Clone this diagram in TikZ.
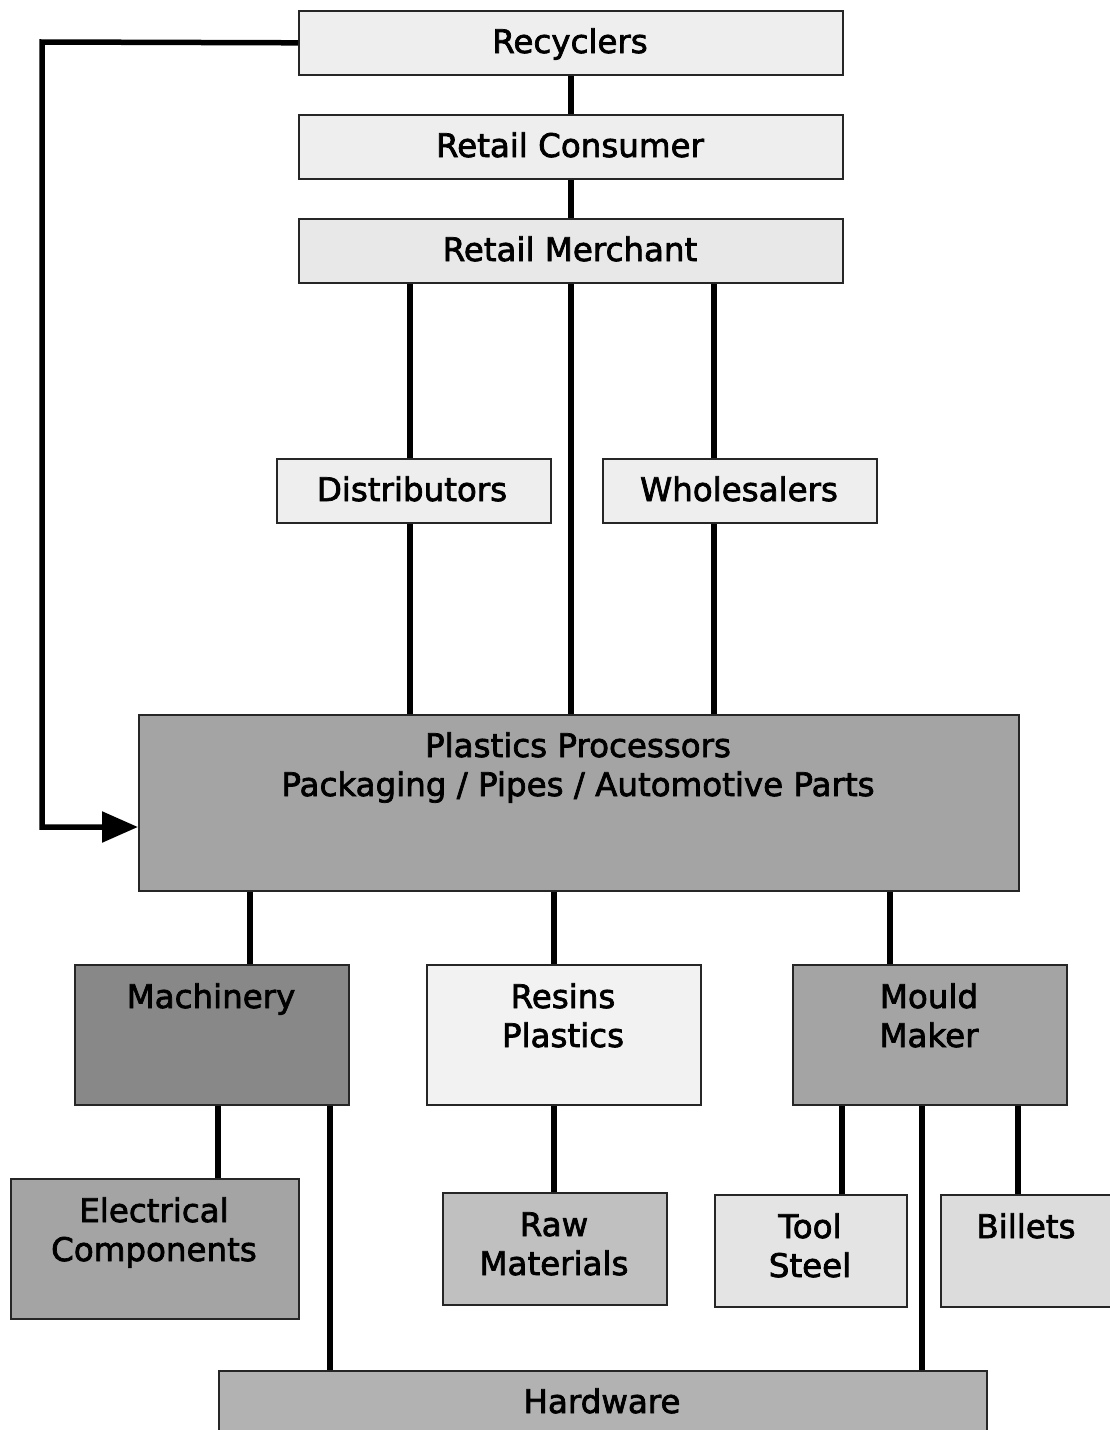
\documentclass[tikz,border=0pt]{standalone}
\usepackage{fontspec}
\setmainfont{DejaVu Sans}
\newfontfamily\lblfont{DejaVu Sans}[FakeBold=2.2]
\usetikzlibrary{arrows.meta}
\definecolor{cA}{HTML}{EEEEEE}
\definecolor{cB}{HTML}{E8E8E8}
\definecolor{cP}{HTML}{A4A4A4}
\definecolor{cM}{HTML}{888888}
\definecolor{cR}{HTML}{F2F2F2}
\definecolor{cRaw}{HTML}{C0C0C0}
\definecolor{cT}{HTML}{E4E4E4}
\definecolor{cBil}{HTML}{DCDCDC}
\definecolor{cH}{HTML}{B2B2B2}
\tikzset{
  box/.style={draw=black!85, line width=1.6pt, inner sep=0pt, anchor=north west},
  lbl/.style={anchor=base, align=center, inner sep=0pt, font=\lblfont\fontsize{32.5}{39}\selectfont},
  conn/.style={line width=5.5pt, black},
}
\newcommand{\bx}[6]{% name, x1, y1, x2, y2, fill
  \node[box, fill=#6, minimum width={(#4-#2)*1pt}, minimum height={(#5-#3)*1pt}] (#1) at (#2,-#3) {};}
\begin{document}
\begin{tikzpicture}[x=1pt,y=1pt]
\useasboundingbox (0,0) rectangle (1110,-1430);
\clip (0,0) rectangle (1110,-1430);
\fill[white] (0,0) rectangle (1110,-1430);

\bx{rec}{298}{10}{842}{74}{cA}
\bx{rcon}{298}{114}{842}{178}{cA}
\bx{rmer}{298}{218}{842}{282}{cB}
\bx{dist}{276}{458}{550}{522}{cA}
\bx{whol}{602}{458}{876}{522}{cA}
\bx{proc}{138}{714}{1018}{890}{cP}
\bx{mach}{74}{964}{348}{1104}{cM}
\bx{resin}{426}{964}{700}{1104}{cR}
\bx{mould}{792}{964}{1066}{1104}{cP}
\bx{elec}{10}{1178}{298}{1318}{cP}
\bx{raw}{442}{1192}{666}{1304}{cRaw}
\bx{tool}{714}{1194}{906}{1306}{cT}
\bx{bil}{940}{1194}{1130}{1306}{cBil}
\bx{hard}{218}{1370}{986}{1450}{cH}

% connectors
\draw[conn] (rec.south) -- (rcon.north);
\draw[conn] (rcon.south) -- (rmer.north);
\draw[conn] (rmer.south) -- (proc.north -| rmer.south);
\draw[conn] (rmer.south -| 410,0) -- (dist.north -| 410,0);
\draw[conn] (dist.south -| 410,0) -- (proc.north -| 410,0);
\draw[conn] (rmer.south -| 714,0) -- (whol.north -| 714,0);
\draw[conn] (whol.south -| 714,0) -- (proc.north -| 714,0);
\draw[conn] (proc.south -| 250,0) -- (mach.north -| 250,0);
\draw[conn] (proc.south -| 554,0) -- (resin.north -| 554,0);
\draw[conn] (proc.south -| 890,0) -- (mould.north -| 890,0);
\draw[conn] (mach.south -| 218,0) -- (elec.north -| 218,0);
\draw[conn] (mach.south -| 330,0) -- (hard.north -| 330,0);
\draw[conn] (resin.south -| 554,0) -- (raw.north -| 554,0);
\draw[conn] (mould.south -| 842,0) -- (tool.north -| 842,0);
\draw[conn] (mould.south -| 922,0) -- (hard.north -| 922,0);
\draw[conn] (mould.south -| 1018,0) -- (bil.north -| 1018,0);
\draw[conn, line join=miter, -{Triangle[length=36pt,width=30pt]}]
  (rec.west) -- (42,-42) -- (42,-827) -- (proc.west |- 0,-827);

% labels (anchor = baseline of the last line)
\node[lbl] (trec) at (570,-53) {Recyclers};
\node[lbl] (trcon) at (570,-157) {Retail Consumer};
\node[lbl] (trmer) at (570,-261) {Retail Merchant};
\node[lbl] (tdist) at (412,-501) {Distributors};
\node[lbl] (twhol) at (739,-501) {Wholesalers};
\node[lbl] (tproc) at (578,-796) {Plastics Processors\\Packaging / Pipes / Automotive Parts};
\node[lbl] (tmach) at (211,-1008) {Machinery};
\node[lbl] (tresin) at (563,-1047) {Resins\\Plastics};
\node[lbl] (tmould) at (929,-1047) {Mould\\Maker};
\node[lbl] (telec) at (154,-1261) {Electrical\\Components};
\node[lbl] (traw) at (554,-1275) {Raw\\Materials};
\node[lbl] (ttool) at (810,-1277) {Tool\\Steel};
\node[lbl] (tbil) at (1026,-1238) {Billets};
\node[lbl] (thard) at (602,-1413) {Hardware};
\end{tikzpicture}
\end{document}
